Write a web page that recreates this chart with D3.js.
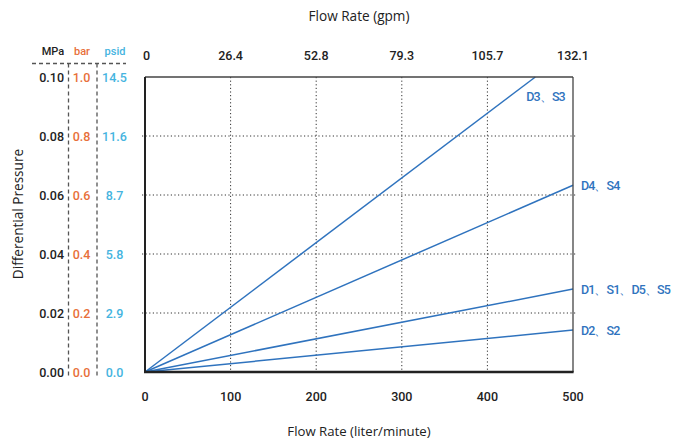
<!DOCTYPE html>
<html>
<head>
<meta charset="utf-8">
<script src="https://cdn.jsdelivr.net/npm/d3@7"></script>
<style>
body { margin: 0; background: #fff; }
text { font-family: Roboto, "Noto Sans", sans-serif; }
</style>
</head>
<body>
<div id="chart"></div>
<script>
// data
var flowTicks = [0, 100, 200, 300, 400, 500];
var gpmLabels = ["0", "26.4", "52.8", "79.3", "105.7", "132.1"];
var mpaTicks = [0, 0.02, 0.04, 0.06, 0.08, 0.10];
var barLabels = ["0.0", "0.2", "0.4", "0.6", "0.8", "1.0"];
var psidLabels = ["0.0", "2.9", "5.8", "8.7", "11.6", "14.5"];

var seriesNames = ["D3、S3", "D4、S4", "D1、S1、D5、S5", "D2、S2"];
var seriesFlow = [[0, 456], [0, 500], [0, 500], [0, 500]];
var seriesPressure = [[0, 0.100], [0, 0.0633], [0, 0.0281], [0, 0.0142]];

var W = 683, H = 443;
var margin = {top: 77, right: 110, bottom: 71, left: 145},
    width = 573 - margin.left,
    height = 372 - margin.top;

var svg = d3.select("#chart")
  .append("svg")
    .attr("width", W)
    .attr("height", H);

var g = svg.append("g")
    .attr("transform", "translate(" + margin.left + "," + margin.top + ")");

var x = d3.scaleLinear().domain([0, 500]).range([0, width]);
var y = d3.scaleLinear().domain([0, 0.10]).range([height, 0]);

// dotted grid
g.selectAll(".vgrid")
  .data(flowTicks.slice(1, -1))
  .enter().append("line")
    .attr("x1", function(d) { return x(d); })
    .attr("x2", function(d) { return x(d); })
    .attr("y1", 0).attr("y2", height)
    .attr("stroke", "#333").attr("stroke-width", 1)
    .attr("stroke-dasharray", "1.2,2.4");

g.selectAll(".hgrid")
  .data(mpaTicks.slice(1, -1))
  .enter().append("line")
    .attr("x1", -3).attr("x2", width + 3)
    .attr("y1", function(d) { return y(d); })
    .attr("y2", function(d) { return y(d); })
    .attr("stroke", "#333").attr("stroke-width", 1)
    .attr("stroke-dasharray", "1.2,2.4");

// series lines
var line = d3.line()
  .x(function(d) { return x(d[0]); })
  .y(function(d) { return y(d[1]); });

seriesNames.forEach(function(name, i) {
  var pts = seriesFlow[i].map(function(f, j) { return [f, seriesPressure[i][j]]; });
  g.append("path")
    .attr("d", line(pts))
    .attr("fill", "none")
    .attr("stroke", "#2f73be")
    .attr("stroke-width", 1.5);
});

// series labels (the 、 is full width in the CJK fallback, so tighten spacing)
var labelPos = [
  {dx: -9, dy: 24},
  {dx: 8, dy: 5},
  {dx: 8, dy: 5},
  {dx: 8, dy: 5}
];
seriesNames.forEach(function(name, i) {
  var f = seriesFlow[i][1], p = seriesPressure[i][1];
  g.append("text")
    .attr("x", x(f) + labelPos[i].dx)
    .attr("y", y(p) + labelPos[i].dy)
    .attr("fill", "#2f73be")
    .style("font-size", "12.5px")
    .style("font-weight", 500)
    .style("letter-spacing", "-0.9px")
    .text(name);
});

// frame
g.append("line").attr("x1", 0).attr("x2", width).attr("y1", 0).attr("y2", 0)
  .attr("stroke", "#444").attr("stroke-width", 1.3);
g.append("line").attr("x1", width).attr("x2", width).attr("y1", 0).attr("y2", height)
  .attr("stroke", "#444").attr("stroke-width", 1.3);
g.append("line").attr("x1", 0).attr("x2", 0).attr("y1", 0).attr("y2", height + 1)
  .attr("stroke", "#222").attr("stroke-width", 2);
g.append("line").attr("x1", -1).attr("x2", width + 0.6).attr("y1", height).attr("y2", height)
  .attr("stroke", "#222").attr("stroke-width", 2.6);

// bottom ticks
g.selectAll(".btick")
  .data(flowTicks)
  .enter().append("text")
    .attr("x", function(d) { return x(d); })
    .attr("y", height + 29)
    .attr("text-anchor", "middle")
    .attr("fill", "#222")
    .style("font-size", "12.5px")
    .style("font-weight", 500)
    .text(function(d) { return d; });

// top ticks (gpm)
g.selectAll(".ttick")
  .data(flowTicks)
  .enter().append("text")
    .attr("x", function(d) { return x(d); })
    .attr("y", -17)
    .attr("text-anchor", function(d, i) { return i == 0 ? "start" : "middle"; })
    .attr("dx", function(d, i) { return i == 0 ? -2 : 0; })
    .attr("fill", "#222")
    .style("font-size", "12.5px")
    .style("font-weight", 500)
    .text(function(d, i) { return gpmLabels[i]; });

// left scales: MPa, bar, psid
g.selectAll(".mpa")
  .data(mpaTicks)
  .enter().append("text")
    .attr("x", -81)
    .attr("y", function(d) { return y(d) + 4.5; })
    .attr("text-anchor", "end")
    .attr("fill", "#222")
    .style("font-size", "12.5px")
    .style("font-weight", 500)
    .text(function(d) { return d.toFixed(2); });

g.selectAll(".bar")
  .data(mpaTicks)
  .enter().append("text")
    .attr("x", -63.5)
    .attr("y", function(d) { return y(d) + 4.5; })
    .attr("text-anchor", "middle")
    .attr("fill", "#e8703a")
    .style("font-size", "12.5px")
    .style("font-weight", 500)
    .text(function(d, i) { return barLabels[i]; });

g.selectAll(".psid")
  .data(mpaTicks)
  .enter().append("text")
    .attr("x", -30.5)
    .attr("y", function(d) { return y(d) + 4.5; })
    .attr("text-anchor", "middle")
    .attr("fill", "#45b4e0")
    .style("font-size", "12.5px")
    .style("font-weight", 500)
    .text(function(d, i) { return psidLabels[i]; });

// unit headers
var units = [
  {t: "MPa", x: 53, c: "#222"},
  {t: "bar", x: 82, c: "#e8703a"},
  {t: "psid", x: 115, c: "#45b4e0"}
];
svg.selectAll(".unit")
  .data(units)
  .enter().append("text")
    .attr("x", function(d) { return d.x; })
    .attr("y", 55)
    .attr("text-anchor", "middle")
    .attr("fill", function(d) { return d.c; })
    .style("font-size", "11px")
    .style("font-weight", 500)
    .text(function(d) { return d.t; });

// dashed separators
svg.append("line").attr("x1", 32).attr("x2", 126).attr("y1", 63.5).attr("y2", 63.5)
  .attr("stroke", "#555").attr("stroke-width", 1.3).attr("stroke-dasharray", "4,3");
[68.5, 97].forEach(function(xx) {
  svg.append("line").attr("x1", xx).attr("x2", xx).attr("y1", 63.5).attr("y2", 378)
    .attr("stroke", "#555").attr("stroke-width", 1.3).attr("stroke-dasharray", "4,3");
});

// axis titles
svg.append("text")
  .attr("x", 359).attr("y", 21)
  .attr("text-anchor", "middle")
  .attr("fill", "#222")
  .style("font-family", "'Open Sans', sans-serif")
  .style("font-size", "13.6px")
  .text("Flow Rate (gpm)");

svg.append("text")
  .attr("x", 359).attr("y", 436)
  .attr("text-anchor", "middle")
  .attr("fill", "#222")
  .style("font-family", "'Open Sans', sans-serif")
  .style("font-size", "13.2px")
  .text("Flow Rate (liter/minute)");

svg.append("text")
  .attr("transform", "translate(23,214) rotate(-90)")
  .attr("text-anchor", "middle")
  .attr("fill", "#222")
  .style("font-family", "'Open Sans', sans-serif")
  .style("font-size", "13.6px")
  .text("Differential Pressure");
</script>
</body>
</html>
